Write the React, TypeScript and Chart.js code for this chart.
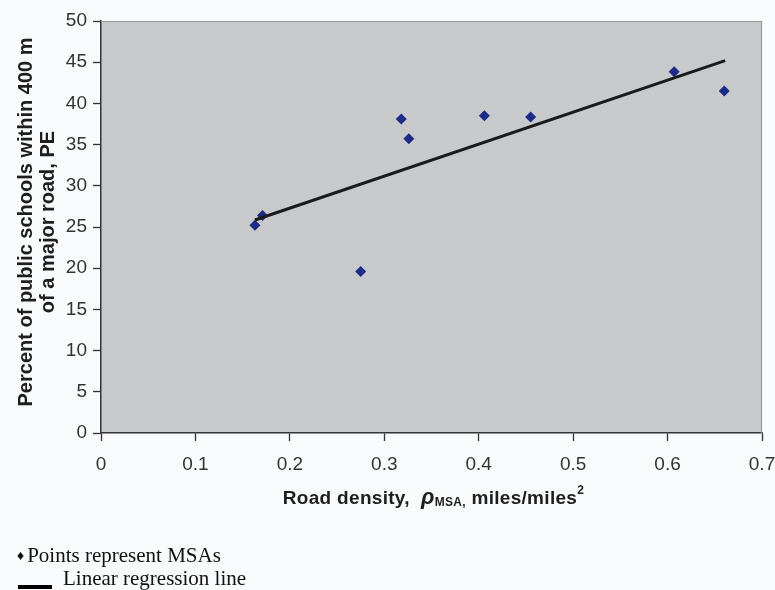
import React, { useEffect, useRef } from "react";
import { Chart, registerables } from "chart.js";

Chart.register(...registerables);

// ---- data ----
const roadDensity = [0.163, 0.171, 0.275, 0.318, 0.326, 0.406, 0.455, 0.607, 0.66];
const percentSchools = [25.2, 26.4, 19.6, 38.1, 35.7, 38.5, 38.35, 43.85, 41.5];
const regressionX = [0.163, 0.661];
const regressionY = [25.85, 45.2];
const xTickValues = [0, 0.1, 0.2, 0.3, 0.4, 0.5, 0.6, 0.7];
const yTickValues = [0, 5, 10, 15, 20, 25, 30, 35, 40, 45, 50];
const yTitleLines = ["Percent of public schools within 400 m", "of a major road, PE"];
const xTitleParts = ["Road density,  ", "\u03C1", "MSA,", " miles/miles", "2"];
const legendTexts = ["Points represent MSAs", "Linear regression line"];

const SANS = "'Liberation Sans', Arial, sans-serif";
const SERIF = "'Liberation Serif', 'Times New Roman', serif";

const decorPlugin = {
  id: "decor",
  beforeDraw(chart: any) {
    const { ctx, chartArea: a } = chart;
    ctx.save();
    ctx.fillStyle = "#c8c9cb";
    ctx.fillRect(a.left, a.top, a.right - a.left, a.bottom - a.top);
    ctx.restore();
  },
  afterDraw(chart: any) {
    const { ctx, chartArea: a } = chart;
    ctx.save();
    // top and right light border
    ctx.strokeStyle = "#9a9a9c";
    ctx.lineWidth = 1.2;
    ctx.beginPath();
    ctx.moveTo(a.left, a.top + 0.5);
    ctx.lineTo(a.right - 0.5, a.top + 0.5);
    ctx.lineTo(a.right - 0.5, a.bottom);
    ctx.stroke();

    // y-axis title (two lines, rotated)
    ctx.fillStyle = "#1e1e1e";
    ctx.font = `bold 20px ${SANS}`;
    ctx.textAlign = "center";
    ctx.textBaseline = "middle";
    const cy = (a.top + a.bottom) / 2 - 5;
    ctx.translate(0, cy);
    ctx.rotate(-Math.PI / 2);
    ctx.fillText(yTitleLines[0], 0, 26);
    ctx.fillText(yTitleLines[1], 0, 48);
    ctx.restore();

    // x-axis title with rich formatting
    ctx.save();
    ctx.fillStyle = "#1e1e1e";
    ctx.textBaseline = "alphabetic";
    ctx.textAlign = "left";
    try {
      (ctx as any).letterSpacing = "0.3px";
    } catch (e) {}
    const parts = [
      { t: xTitleParts[0], f: `bold 19px ${SANS}`, dy: 0 },
      { t: xTitleParts[1], f: `italic bold 22px ${SANS}`, dy: 0 },
      { t: xTitleParts[2], f: `bold 12px ${SANS}`, dy: 2 },
      { t: xTitleParts[3], f: `bold 19px ${SANS}`, dy: 0 },
      { t: xTitleParts[4], f: `bold 12px ${SANS}`, dy: -10 },
    ];
    let total = 0;
    const widths = parts.map((p) => {
      ctx.font = p.f;
      const w = ctx.measureText(p.t).width;
      total += w;
      return w;
    });
    let x = (a.left + a.right) / 2 - total / 2 + 2;
    const baseY = 504;
    parts.forEach((p, i) => {
      ctx.font = p.f;
      ctx.fillText(p.t, x, baseY + p.dy);
      x += widths[i];
    });
    ctx.restore();
  },
};

export default function App() {
  const ref = useRef<HTMLCanvasElement | null>(null);

  useEffect(() => {
    if (!ref.current) return;
    const chart = new Chart(ref.current, {
      type: "scatter",
      data: {
        datasets: [
          {
            label: "MSAs",
            data: roadDensity.map((v, i) => ({ x: v, y: percentSchools[i] })),
            pointStyle: "rectRot",
            pointRadius: 5.5,
            pointBackgroundColor: "#1c2c86",
            pointBorderColor: "#1c2c86",
            pointBorderWidth: 0,
            showLine: false,
            order: 1,
          },
          {
            label: "Linear regression",
            type: "line",
            data: regressionX.map((v, i) => ({ x: v, y: regressionY[i] })),
            borderColor: "#1a1a1a",
            borderWidth: 3,
            pointRadius: 0,
            showLine: true,
            fill: false,
            order: 0,
          } as any,
        ],
      },
      options: {
        animation: false,
        responsive: false,
        maintainAspectRatio: false,
        layout: { padding: { left: 0, top: 21, right: 13, bottom: 0 } },
        plugins: {
          legend: { display: false },
          tooltip: { enabled: false },
        },
        scales: {
          x: {
            type: "linear",
            min: 0,
            max: 0.7,
            afterBuildTicks: (s: any) => {
              s.ticks = xTickValues.map((v) => ({ value: v }));
            },
            afterFit: (s: any) => {
              s.height = 157;
              s.paddingLeft = 0;
              s.paddingRight = 0;
            },
            ticks: {
              callback: (v: any) => String(v),
              font: { family: SANS, size: 19 },
              color: "#333333",
              padding: 12,
              maxRotation: 0,
            },
            grid: {
              drawOnChartArea: false,
              drawTicks: true,
              tickLength: 8,
              tickColor: "#333333",
              tickWidth: 1.3,
            },
            border: { display: true, color: "#333333", width: 1.5 },
          },
          y: {
            type: "linear",
            min: 0,
            max: 50,
            afterBuildTicks: (s: any) => {
              s.ticks = yTickValues.map((v) => ({ value: v }));
            },
            afterFit: (s: any) => {
              s.width = 101;
              s.paddingTop = 0;
              s.paddingBottom = 0;
            },
            ticks: {
              callback: (v: any) => String(v),
              font: { family: SANS, size: 19 },
              color: "#333333",
              padding: 6,
            },
            grid: {
              drawOnChartArea: false,
              drawTicks: true,
              tickLength: 8,
              tickColor: "#333333",
              tickWidth: 1.3,
            },
            border: { display: true, color: "#333333", width: 1.5 },
          },
        },
      },
      plugins: [decorPlugin],
    });
    return () => chart.destroy();
  }, []);

  return (
    <div
      style={{
        position: "absolute",
        left: 0,
        top: 0,
        width: 775,
        height: 590,
        background: "#f9fafc",
        overflow: "hidden",
      }}
    >
      <canvas ref={ref} width={775} height={590} style={{ display: "block", width: 775, height: 590 }} />
      <div
        style={{
          position: "absolute",
          left: 17,
          top: 545,
          fontFamily: SERIF,
          fontSize: 21,
          lineHeight: "20px",
          color: "#111",
          whiteSpace: "nowrap",
        }}
      >
        <div>
          <span style={{ fontSize: 14, position: "relative", top: -2 }}>{"\u2666"}</span>
          <span style={{ marginLeft: 3 }}>{legendTexts[0]}</span>
        </div>
        <div style={{ position: "relative", height: 20 }}>
          <span
            style={{
              position: "absolute",
              left: 1,
              top: 17,
              width: 34,
              height: 4,
              background: "#000",
            }}
          />
          <span style={{ marginLeft: 46 }}>{legendTexts[1]}</span>
        </div>
      </div>
    </div>
  );
}
